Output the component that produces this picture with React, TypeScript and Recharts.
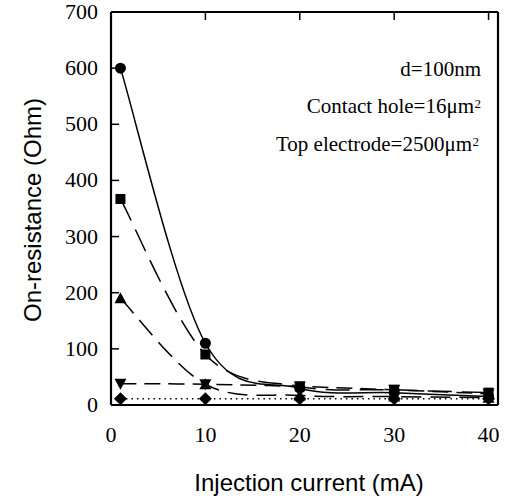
import React from 'react';
import { LineChart, Line, XAxis, YAxis } from 'recharts';

const currents = [1, 10, 20, 30, 40];
const circleSeries = [600, 110, 30, 22, 15];
const squareSeries = [367, 90, 33, 27, 22];
const triUpSeries = [190, 37, 17, 15, 13];
const triDownSeries = [38, 37, 33, 27, 20];
const diamondSeries = [11, 11, 11, 11, 11];
const xTicks = [0, 10, 20, 30, 40];
const yTicks = [0, 100, 200, 300, 400, 500, 600, 700];
const notes = ['d=100nm', 'Contact hole=16μm', 'Top electrode=2500μm'];

const data = currents.map((c, i) => ({
  x: c,
  circle: circleSeries[i],
  square: squareSeries[i],
  triUp: triUpSeries[i],
  triDown: triDownSeries[i],
  diamond: diamondSeries[i],
}));

const SERIF = "'Liberation Serif', 'Times New Roman', serif";
const SANS = "'Liberation Sans', Arial, sans-serif";
const TL = 8;

// Catmull-Rom style smooth curve (like a plotting program's spline) through the data points
const splineCurve = (context: any) => {
  let pts: number[][] = [];
  return {
    areaStart() {},
    areaEnd() {},
    lineStart() {
      pts = [];
    },
    point(x: number, y: number) {
      pts.push([+x, +y]);
    },
    lineEnd() {
      const n = pts.length;
      if (!n) return;
      context.moveTo(pts[0][0], pts[0][1]);
      for (let i = 0; i < n - 1; i++) {
        const p0 = pts[Math.max(i - 1, 0)];
        const p1 = pts[i];
        const p2 = pts[i + 1];
        const p3 = pts[Math.min(i + 2, n - 1)];
        context.bezierCurveTo(
          p1[0] + (p2[0] - p0[0]) / 6,
          p1[1] + (p2[1] - p0[1]) / 6,
          p2[0] - (p3[0] - p1[0]) / 6,
          p2[1] - (p3[1] - p1[1]) / 6,
          p2[0],
          p2[1]
        );
      }
    },
  };
};

const BottomTick = (p: any) => (
  <g>
    <line x1={p.x} x2={p.x} y1={p.y} y2={p.y - TL} stroke="#000" strokeWidth={1.5} />
    <text x={p.x} y={p.y + 37} textAnchor="middle" fontFamily={SERIF} fontSize={22} fill="#000">
      {p.payload.value}
    </text>
  </g>
);
const TopTick = (p: any) => (
  <line x1={p.x} x2={p.x} y1={p.y} y2={p.y + TL} stroke="#000" strokeWidth={1.5} />
);
const LeftTick = (p: any) => (
  <g>
    <line x1={p.x} x2={p.x + TL} y1={p.y} y2={p.y} stroke="#000" strokeWidth={1.5} />
    <text x={p.x - 13} y={p.y + 7} textAnchor="end" fontFamily={SERIF} fontSize={22} fill="#000">
      {p.payload.value}
    </text>
  </g>
);
const RightTick = (p: any) => (
  <line x1={p.x} x2={p.x - TL} y1={p.y} y2={p.y} stroke="#000" strokeWidth={1.5} />
);

const makeDot = (shape: string) => (props: any) => {
  const { cx, cy, key, index } = props;
  const k = key ?? `${shape}-${index}`;
  if (cx == null || cy == null) return <g key={k} />;
  if (shape === 'circle') return <circle key={k} cx={cx} cy={cy} r={5.5} fill="#000" />;
  if (shape === 'square') return <rect key={k} x={cx - 5} y={cy - 5} width={10} height={10} fill="#000" />;
  if (shape === 'triUp')
    return <polygon key={k} points={`${cx},${cy - 6} ${cx - 6},${cy + 5} ${cx + 6},${cy + 5}`} fill="#000" />;
  if (shape === 'triDown')
    return <polygon key={k} points={`${cx},${cy + 6} ${cx - 6},${cy - 5} ${cx + 6},${cy - 5}`} fill="#000" />;
  return <polygon key={k} points={`${cx},${cy - 6.5} ${cx + 6.5},${cy} ${cx},${cy + 6.5} ${cx - 6.5},${cy}`} fill="#000" />;
};

const axisLine = { stroke: '#000', strokeWidth: 2.2 };

export default function App() {
  return (
    <div style={{ position: 'absolute', left: 0, top: 0, width: 510, height: 500, background: '#fff' }}>
      <LineChart width={510} height={500} data={data} margin={{ top: 11, right: 11, bottom: 0, left: 0 }}>
        <XAxis xAxisId="b" dataKey="x" type="number" domain={[0, 41]} ticks={xTicks} interval={0}
          orientation="bottom" height={95} tickLine={false} tickSize={0} tickMargin={0}
          axisLine={axisLine} tick={<BottomTick />} />
        <XAxis xAxisId="t" dataKey="x" type="number" domain={[0, 41]} ticks={xTicks} interval={0}
          orientation="top" height={1} tickLine={false} tickSize={0} tickMargin={0}
          axisLine={axisLine} tick={<TopTick />} />
        <YAxis yAxisId="l" type="number" domain={[0, 700]} ticks={yTicks} interval={0}
          orientation="left" width={111} tickLine={false} tickSize={0} tickMargin={0}
          axisLine={axisLine} tick={<LeftTick />} />
        <YAxis yAxisId="r" type="number" domain={[0, 700]} ticks={yTicks} interval={0}
          orientation="right" width={1} tickLine={false} tickSize={0} tickMargin={0}
          axisLine={axisLine} tick={<RightTick />} />
        <Line xAxisId="b" yAxisId="l" type={splineCurve as any} dataKey="circle" stroke="#000" strokeWidth={1.5}
          dot={makeDot('circle')} isAnimationActive={false} />
        <Line xAxisId="b" yAxisId="l" type={splineCurve as any} dataKey="square" stroke="#000" strokeWidth={1.5}
          strokeDasharray="24 10" dot={makeDot('square')} isAnimationActive={false} />
        <Line xAxisId="b" yAxisId="l" type={splineCurve as any} dataKey="triUp" stroke="#000" strokeWidth={1.5}
          strokeDasharray="20 9" dot={makeDot('triUp')} isAnimationActive={false} />
        <Line xAxisId="b" yAxisId="l" type={splineCurve as any} dataKey="triDown" stroke="#000" strokeWidth={1.5}
          strokeDasharray="16 8" dot={makeDot('triDown')} isAnimationActive={false} />
        <Line xAxisId="b" yAxisId="l" type="linear" dataKey="diamond" stroke="#000" strokeWidth={1.5}
          strokeDasharray="1.5 4" dot={makeDot('diamond')} isAnimationActive={false} />
      </LineChart>
      <svg width={510} height={500} style={{ position: 'absolute', left: 0, top: 0, pointerEvents: 'none' }}>
        <text x={481} y={76} textAnchor="end" fontFamily={SERIF} fontSize={21} fill="#000">{notes[0]}</text>
        <text x={474} y={113} textAnchor="end" fontFamily={SERIF} fontSize={21} fill="#000">{notes[1]}</text>
        <text x={481} y={108} fontFamily={SERIF} fontSize={13} fill="#000" textAnchor="end">2</text>
        <text x={472} y={151} textAnchor="end" fontFamily={SERIF} fontSize={21} fill="#000">{notes[2]}</text>
        <text x={479} y={146} fontFamily={SERIF} fontSize={13} fill="#000" textAnchor="end">2</text>
        <text x={309} y={491} textAnchor="middle" fontFamily={SANS} fontSize={24} fill="#000">
          Injection current (mA)
        </text>
        <text x={0} y={0} transform="translate(41,210) rotate(-90)" textAnchor="middle" fontFamily={SANS}
          fontSize={24} fill="#000">
          On-resistance (Ohm)
        </text>
      </svg>
    </div>
  );
}
